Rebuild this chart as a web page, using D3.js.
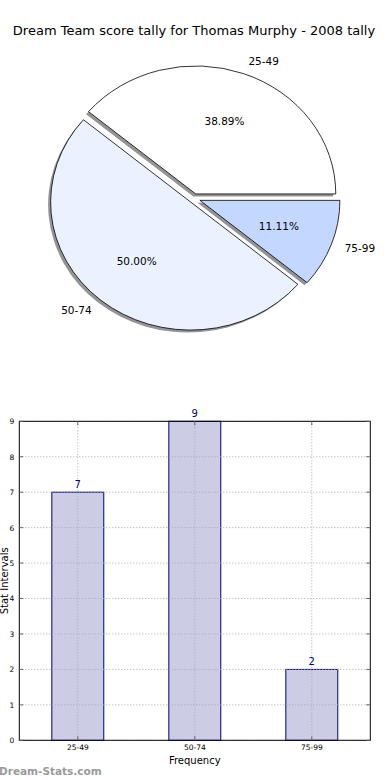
<!DOCTYPE html>
<html>
<head>
<meta charset="utf-8">
<script src="https://cdn.jsdelivr.net/npm/d3@7"></script>
<style>
html,body{margin:0;padding:0;background:#fff;}
svg{display:block;font-family:"DejaVu Sans",sans-serif;}
</style>
</head>
<body>
<svg id="c" width="390" height="780"></svg>
<script>
// ---- data ----
const title = "Dream Team score tally for Thomas Murphy - 2008 tally";
const categories = ["25-49", "50-74", "75-99"];
const counts = [7, 9, 2];
const pieColors = ["#ffffff", "#ebf1ff", "#c3d7ff"];
const explode = [0.037, 0.037, 0.045];
const yTicks = [0, 1, 2, 3, 4, 5, 6, 7, 8, 9];
const xLabel = "Frequency";
const yLabel = "Stat Intervals";
const watermark = "Dream-Stats.com";

const svg = d3.select("#c");

// ---- title ----
svg.append("text").attr("x", 194).attr("y", 35).attr("text-anchor", "middle")
  .attr("font-size", 13).attr("fill", "#000").text(title);

// ---- pie (elliptical, matplotlib-like) ----
const pcx = 194, pcy = 198.4, rx = 140, ry = 128;
const total = d3.sum(counts);
const pie = d3.pie().sort(null).startAngle(Math.PI / 2).endAngle(Math.PI / 2 - 2 * Math.PI);
const arcs = pie(counts);
const arcGen = d3.arc().innerRadius(0).outerRadius(1);
const pieG = svg.append("g");
arcs.forEach((d, i) => {
  const mid = (d.startAngle + d.endAngle) / 2;
  const ux = Math.sin(mid), uy = -Math.cos(mid);
  const cx = pcx + explode[i] * rx * ux, cy = pcy + explode[i] * ry * uy;
  // shadow
  pieG.append("path")
    .attr("d", arcGen(d))
    .attr("transform", `translate(${cx - 2.5},${cy + 2.5}) scale(${rx},${ry})`)
    .attr("fill", "#4d4d4d").attr("fill-opacity", 0.6).attr("stroke", "none");
  pieG.append("path")
    .attr("d", arcGen(d))
    .attr("transform", `translate(${cx},${cy}) scale(${rx},${ry})`)
    .attr("fill", pieColors[i]).attr("stroke", "#000").attr("stroke-width", 0.8)
    .attr("vector-effect", "non-scaling-stroke");
  // label
  const lx = cx + 1.1 * rx * ux, ly = cy + 1.1 * ry * uy;
  pieG.append("text").attr("x", lx).attr("y", ly).attr("dy", "0.35em")
    .attr("text-anchor", lx > pcx ? "start" : "end")
    .attr("font-size", 10.5).attr("fill", "#000").text(categories[i]);
  // pct
  const px = cx + 0.6 * rx * ux, py = cy + 0.6 * ry * uy;
  pieG.append("text").attr("x", px).attr("y", py).attr("dy", "0.35em")
    .attr("text-anchor", "middle").attr("font-size", 10.5).attr("fill", "#000")
    .text((counts[i] / total * 100).toFixed(2) + "%");
});

// ---- bar chart ----
const L = 19.3, R = 370.3, T = 421.3, B = 740.3;
const x = d3.scaleBand().domain(categories).range([L, R]).paddingInner(0.556).paddingOuter(0.278);
const y = d3.scaleLinear().domain([0, 9]).range([B, T]);
const bg = svg.append("g");

// bars
bg.selectAll(".bar").data(counts).enter().append("rect")
  .attr("x", (d, i) => x(categories[i]))
  .attr("y", d => y(d))
  .attr("width", x.bandwidth())
  .attr("height", d => B - y(d))
  .attr("fill", "#cccce5").attr("stroke", "#000080").attr("stroke-width", 1);

// grid (drawn above bars, as in matplotlib)
bg.selectAll(".hg").data(yTicks).enter().append("line")
  .attr("x1", L).attr("x2", R).attr("y1", d => y(d)).attr("y2", d => y(d))
  .attr("stroke", "#a8a8b0").attr("stroke-width", 1).attr("stroke-dasharray", "1,2");
bg.selectAll(".vg").data(categories).enter().append("line")
  .attr("x1", d => x(d) + x.bandwidth() / 2).attr("x2", d => x(d) + x.bandwidth() / 2)
  .attr("y1", T).attr("y2", B)
  .attr("stroke", "#a8a8b0").attr("stroke-width", 1).attr("stroke-dasharray", "1,2");

// bar value labels
bg.selectAll(".bl").data(counts).enter().append("text")
  .attr("x", (d, i) => x(categories[i]) + x.bandwidth() / 2)
  .attr("y", d => y(d) - 4)
  .attr("text-anchor", "middle").attr("font-size", 10).attr("fill", "#000080")
  .text(d => d);

// axes frame
bg.append("rect").attr("x", L).attr("y", T).attr("width", R - L).attr("height", B - T)
  .attr("fill", "none").attr("stroke", "#000").attr("stroke-width", 1);

// y axis
const yAxis = d3.axisLeft(y).tickValues(yTicks).tickSize(0).tickPadding(5).tickFormat(d3.format("d"));
const ya = bg.append("g").attr("transform", `translate(${L},0)`).call(yAxis);
ya.select(".domain").remove();
ya.selectAll("text").attr("font-size", 7.5).attr("font-family", "DejaVu Sans").attr("fill", "#000");
bg.selectAll(".ytl").data(yTicks).enter().append("line")
  .attr("x1", L).attr("x2", L + 4).attr("y1", d => y(d)).attr("y2", d => y(d))
  .attr("stroke", "#666").attr("stroke-width", 1);
bg.selectAll(".ytr").data(yTicks).enter().append("line")
  .attr("x1", R - 4).attr("x2", R).attr("y1", d => y(d)).attr("y2", d => y(d))
  .attr("stroke", "#666").attr("stroke-width", 1);

// x axis
const xAxis = d3.axisBottom(x).tickSize(0).tickPadding(4);
const xa = bg.append("g").attr("transform", `translate(0,${B})`).call(xAxis);
xa.select(".domain").remove();
xa.selectAll("text").attr("font-size", 7.5).attr("font-family", "DejaVu Sans").attr("fill", "#000");
bg.selectAll(".xtb").data(categories).enter().append("line")
  .attr("x1", d => x(d) + x.bandwidth() / 2).attr("x2", d => x(d) + x.bandwidth() / 2)
  .attr("y1", B - 4).attr("y2", B).attr("stroke", "#666").attr("stroke-width", 1);
bg.selectAll(".xtt").data(categories).enter().append("line")
  .attr("x1", d => x(d) + x.bandwidth() / 2).attr("x2", d => x(d) + x.bandwidth() / 2)
  .attr("y1", T).attr("y2", T + 4).attr("stroke", "#666").attr("stroke-width", 1);

// axis labels
svg.append("text").attr("x", (L + R) / 2).attr("y", 764).attr("text-anchor", "middle")
  .attr("font-size", 10).attr("fill", "#000").text(xLabel);
svg.append("text").attr("transform", `translate(8,${(T + B) / 2}) rotate(-90)`)
  .attr("text-anchor", "middle").attr("font-size", 10).attr("fill", "#000").text(yLabel);

// watermark
svg.append("text").attr("x", -1).attr("y", 775).attr("font-size", 10.5).attr("font-weight", "bold")
  .attr("fill", "#9a9a9a").text(watermark);
</script>
</body>
</html>
